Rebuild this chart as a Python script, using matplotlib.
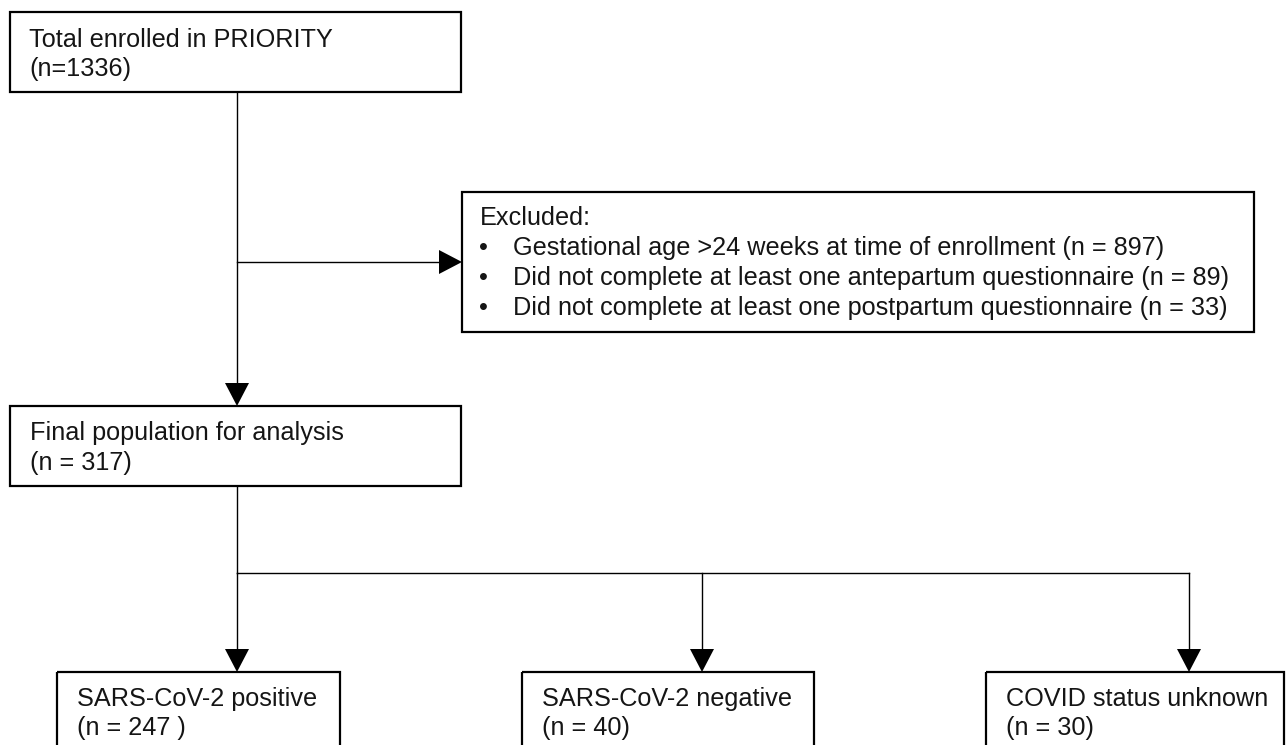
import matplotlib.pyplot as plt
from matplotlib.patches import Rectangle, Polygon

plt.rcParams['font.family'] = ['Liberation Sans', 'DejaVu Sans']

# flow data
enrolled_label = "Total enrolled in PRIORITY"
enrolled_n = "(n=1336)"
excluded_title = "Excluded:"
excluded_reasons = ["Gestational age >24 weeks at time of enrollment",
                    "Did not complete at least one antepartum questionnaire",
                    "Did not complete at least one postpartum questionnaire"]
excluded_counts = [897, 89, 33]
final_label = "Final population for analysis"
final_n = "(n = 317)"
group_labels = ["SARS-CoV-2 positive", "SARS-CoV-2 negative", "COVID status unknown"]
group_n = ["(n = 247 )", "(n = 40)", "(n = 30)"]

W, H = 1288, 745
fig = plt.figure(figsize=(W / 100, H / 100), dpi=100)
ax = fig.add_axes([0, 0, 1, 1])
ax.set_xlim(0, W)
ax.set_ylim(H, 0)
ax.axis('off')

FS = 18.2
TXT = '#151515'
BOX_LW = 1.6
LINE_LW = 1.0


def box(x0, y0, x1, y1):
    ax.add_patch(Rectangle((x0, y0), x1 - x0, y1 - y0, fill=False,
                           edgecolor='black', lw=BOX_LW))


def arrow_down(x, y0, y1):
    ax.plot([x, x], [y0, y1 - 22], color='black', lw=LINE_LW)
    ax.add_patch(Polygon([(x - 12, y1 - 23), (x + 12, y1 - 23), (x, y1)],
                         closed=True, color='black', lw=0))


def arrow_right(y, x0, x1):
    ax.plot([x0, x1 - 22], [y, y], color='black', lw=LINE_LW)
    ax.add_patch(Polygon([(x1 - 23, y - 12), (x1 - 23, y + 12), (x1, y)],
                         closed=True, color='black', lw=0))


def lines(x, ys, texts):
    for y, t in zip(ys, texts):
        ax.text(x, y, t, fontsize=FS, color=TXT, va='baseline', ha='left')


# top box
box(10, 12, 461, 92)
lines(29, [47, 76], [enrolled_label, enrolled_n])

# main stem with exclusion branch
arrow_down(237, 92, 406)
arrow_right(262, 237, 462)

box(462, 192, 1254, 332)
ax.text(480, 225, excluded_title, fontsize=FS, color=TXT, va='baseline')
for i, (reason, n) in enumerate(zip(excluded_reasons, excluded_counts)):
    y = 255 + 30 * i
    ax.text(479, y, "\u2022", fontsize=FS, color=TXT, va='baseline')
    ax.text(513, y, f"{reason} (n = {n})", fontsize=FS, color=TXT, va='baseline')

# final population
box(10, 406, 461, 486)
lines(30, [440, 470], [final_label, final_n])

# split into groups
arrow_xs = [237, 702, 1189]
box_edges = [(57, 340), (522, 814), (986, 1284)]
ax.plot([237, 237], [486, 573], color='black', lw=LINE_LW)
ax.plot([arrow_xs[0], arrow_xs[-1]], [573, 573], color='black', lw=LINE_LW)
for xa, (x0, x1), lab, n in zip(arrow_xs, box_edges, group_labels, group_n):
    arrow_down(xa, 573, 672)
    box(x0, 672, x1, 770)
    lines(x0 + 20, [706, 735], [lab, n])

fig.savefig('out.png', dpi=100, facecolor='white')
